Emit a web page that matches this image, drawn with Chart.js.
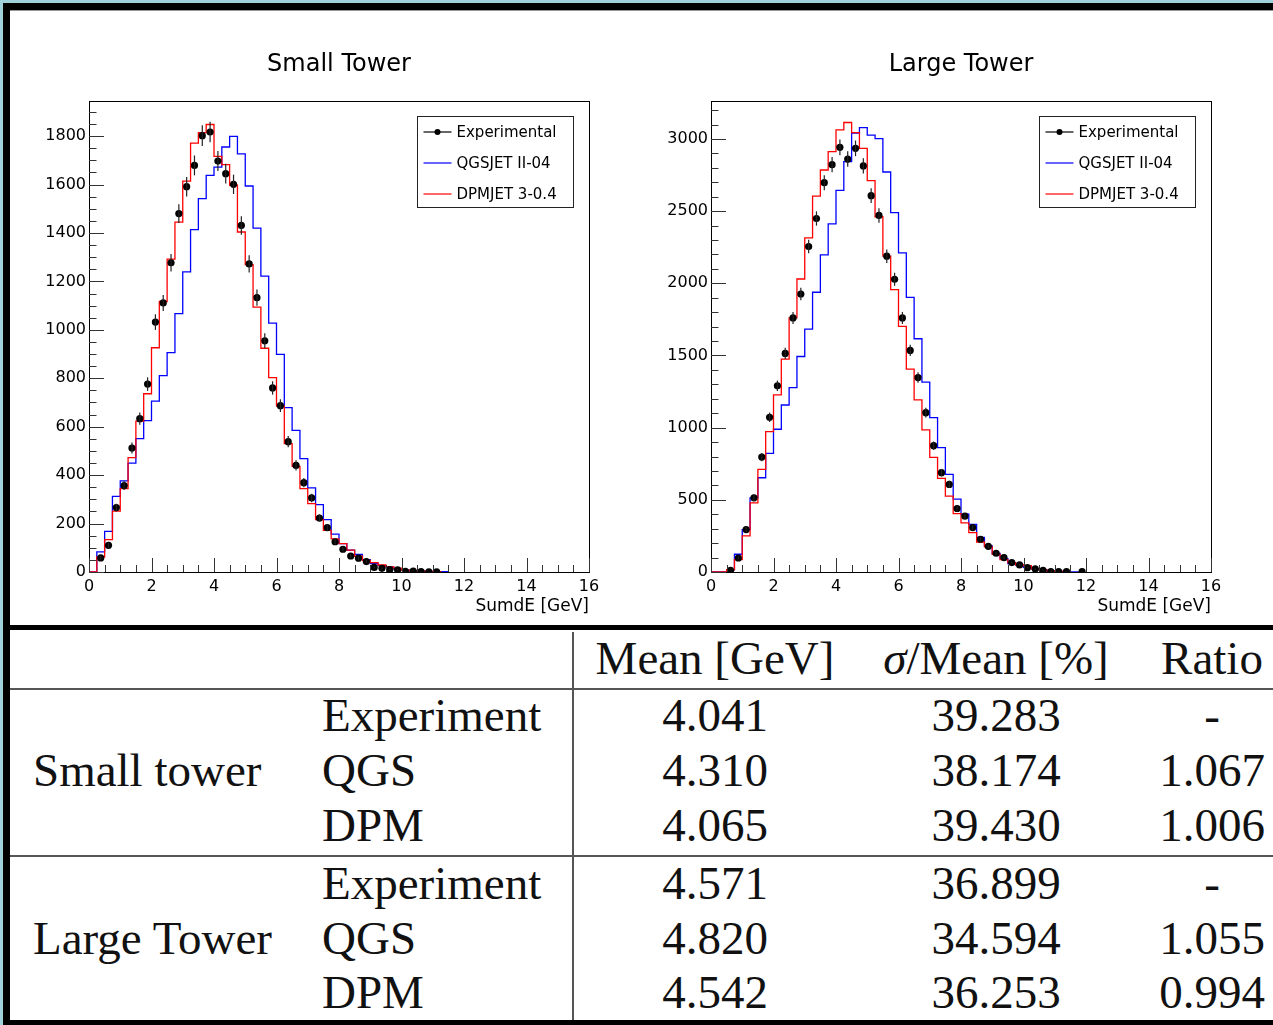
<!DOCTYPE html>
<html>
<head>
<meta charset="utf-8">
<script src="https://cdn.jsdelivr.net/npm/chart.js@4.4.1/dist/chart.umd.min.js"></script>
<style>
  html, body { margin: 0; padding: 0; background: #fff; }
  body { width: 1273px; height: 1025px; position: relative; overflow: hidden; }
  .bar { position: absolute; background: #000; }
  canvas { position: absolute; }
  .t { position: absolute; font-family: 'Liberation Serif', serif; font-size: 47px; line-height: 50px; height: 50px; color: #111; white-space: nowrap; }
  .c { text-align: center; width: 300px; }
  .rule { position: absolute; background: #555; }
</style>
</head>
<body>
<!-- window frame -->
<div style="position:absolute;left:0;top:0;width:1273px;height:3px;background:#9fd3d9"></div>
<div style="position:absolute;left:0;top:0;width:3px;height:1025px;background:#9fd3d9"></div>
<div class="bar" style="left:3px;top:3px;width:1270px;height:7px;border-top-left-radius:4px"></div>
<div style="position:absolute;left:10px;top:10px;width:1263px;height:1px;background:#999"></div>
<div class="bar" style="left:3px;top:3px;width:7px;height:1022px"></div>
<div class="bar" style="left:3px;top:1020px;width:1270px;height:5px"></div>
<div class="bar" style="left:10px;top:625px;width:1263px;height:5px"></div>

<canvas id="chartSmall" width="612" height="615" style="left:10px;top:10px"></canvas>
<canvas id="chartLarge" width="612" height="615" style="left:632px;top:10px"></canvas>

<!-- table -->
<div class="rule" style="left:572px;top:632px;width:2px;height:388px"></div>
<div class="rule" style="left:10px;top:688px;width:1263px;height:2px"></div>
<div class="rule" style="left:10px;top:855px;width:1263px;height:2px"></div>
<div id="table"></div>

<script>
// bins: 0.25 GeV wide, starting at 0
const binWidth = 0.25;

// Small tower
const smallExp = [null, 58, 110, 266, 357, 512, 633, 776, 1032, 1111, 1277, 1480, 1591, 1679, 1802, 1817,
  1697, 1645, 1601, 1431, 1272, 1133, 955, 760, 687, 538, 440, 369, 306, 223, 183, 125,
  94, 66, 57, 43, 19, 15, 10, 9, 3, 4, 2, 1, 1];
const smallQgs = [0, 83, 168, 312, 376, 450, 551, 625, 706, 811, 906, 1067, 1239, 1414, 1542, 1638,
  1672, 1755, 1799, 1727, 1594, 1420, 1222, 1028, 899, 679, 585, 468, 347, 278, 216, 156,
  117, 90, 73, 51, 35, 26, 21, 12, 8, 5, 3, 2, 1, 1];
const smallDpm = [0, 62, 134, 251, 344, 472, 623, 736, 926, 1117, 1292, 1445, 1614, 1771, 1814, 1848,
  1716, 1682, 1597, 1404, 1269, 1094, 924, 803, 685, 530, 436, 344, 282, 216, 172, 137,
  117, 90, 65, 48, 39, 29, 21, 16, 8, 5, 3, 2, 1];

// Large tower
const largeExp = [null, null, 12, 97, 294, 514, 796, 1072, 1290, 1514, 1760, 1926, 2255, 2449, 2697, 2822,
  2942, 2861, 2935, 2813, 2607, 2470, 2188, 2028, 1760, 1535, 1347, 1104, 875, 688, 607, 440,
  387, 308, 227, 178, 130, 100, 65, 49, 30, 21, 12, 3, 3, 3, null, 2];
const largeQgs = [0, 0, 15, 123, 294, 514, 653, 822, 989, 1157, 1278, 1493, 1683, 1938, 2197, 2412,
  2644, 2843, 3040, 3079, 3026, 3003, 2771, 2489, 2211, 1903, 1616, 1315, 1070, 861, 676, 505,
  400, 329, 239, 181, 128, 93, 58, 47, 33, 21, 14, 7, 4, 2, 1];
const largeDpm = [0, 0, 17, 86, 250, 479, 711, 972, 1227, 1475, 1760, 2030, 2315, 2604, 2785, 2912,
  3063, 3114, 3044, 2935, 2711, 2461, 2188, 1956, 1701, 1405, 1192, 984, 794, 648, 526, 405,
  340, 273, 208, 174, 123, 86, 65, 49, 44, 21, 14, 7, 4, 2];

// axis ticks
const xTicks = [0, 2, 4, 6, 8, 10, 12, 14, 16];
const smallYTicks = [0, 200, 400, 600, 800, 1000, 1200, 1400, 1600, 1800];
const largeYTicks = [0, 500, 1000, 1500, 2000, 2500, 3000];

const legendLabels = ['Experimental', 'QGSJET II-04', 'DPMJET 3-0.4'];
const xTitle = 'SumdE [GeV]';

// table
const tableHeader = ['Mean [GeV]', 'σ/Mean [%]', 'Ratio'];
const tableGroups = ['Small tower', 'Large Tower'];
const tableModels = ['Experiment', 'QGS', 'DPM'];
const meanValues = [['4.041', '4.310', '4.065'], ['4.571', '4.820', '4.542']];
const sigmaValues = [['39.283', '38.174', '39.430'], ['36.899', '34.594', '36.253']];
const ratioValues = [['-', '1.067', '1.006'], ['-', '1.055', '0.994']];

const colors = { exp: '#000000', qgs: '#0000ff', dpm: '#ff0000', axis: '#333333' };
const sansFont = "'DejaVu Sans', sans-serif";

// histogram outline from bin contents
function outline(values) {
    const pts = [];
    values.forEach((v, i) => {
        pts.push({ x: i * binWidth, y: v });
        pts.push({ x: (i + 1) * binWidth, y: v });
    });
    pts.push({ x: values.length * binWidth, y: 0 });
    return pts;
}

function points(values) {
    const pts = [];
    values.forEach((v, i) => {
        if (v !== null) pts.push({ x: (i + 0.5) * binWidth, y: v });
    });
    return pts;
}

// ROOT-like frame, inward ticks, error bars and legend box
const rootStyle = {
    id: 'rootStyle',
    afterDatasetsDraw(chart, args, opts) {
        const ctx = chart.ctx;
        const area = chart.chartArea;
        const xs = chart.scales.x, ys = chart.scales.y;
        ctx.save();

        // error bars (sqrt N)
        ctx.strokeStyle = '#222';
        ctx.lineWidth = 1.2;
        chart.data.datasets[0].data.forEach(p => {
            const err = Math.sqrt(p.y);
            const px = xs.getPixelForValue(p.x);
            ctx.beginPath();
            ctx.moveTo(px, ys.getPixelForValue(p.y + err));
            ctx.lineTo(px, ys.getPixelForValue(Math.max(p.y - err, 0)));
            ctx.stroke();
        });

        // frame
        ctx.strokeStyle = '#000';
        ctx.lineWidth = 1;
        ctx.strokeRect(Math.round(area.left) + 0.5, Math.round(area.top) + 0.5,
            Math.round(area.right - area.left), Math.round(area.bottom - area.top));

        // ticks
        ctx.strokeStyle = colors.axis;
        for (let v = 0; v <= 16 + 1e-9; v += 0.5) {
            const px = Math.round(xs.getPixelForValue(v)) + 0.5;
            const len = (Math.abs(v / 2 - Math.round(v / 2)) < 1e-6) ? 14 : 7;
            ctx.beginPath();
            ctx.moveTo(px, area.bottom);
            ctx.lineTo(px, area.bottom - len);
            ctx.stroke();
        }
        for (let v = 0; v <= ys.max; v += opts.yMinor) {
            const py = Math.round(ys.getPixelForValue(v)) + 0.5;
            const len = (v % opts.yMajor === 0) ? 15 : 7.5;
            ctx.beginPath();
            ctx.moveTo(area.left, py);
            ctx.lineTo(area.left + len, py);
            ctx.stroke();
        }

        // legend
        const bw = 156, bh = 91;
        const bx = Math.round(area.right - 16 - bw) + 0.5;
        const by = Math.round(area.top + 15) + 0.5;
        ctx.fillStyle = '#fff';
        ctx.fillRect(bx, by, bw, bh);
        ctx.strokeStyle = '#222';
        ctx.strokeRect(bx, by, bw, bh);
        const rows = [colors.exp, colors.qgs, colors.dpm];
        ctx.font = '15px ' + sansFont;
        ctx.textBaseline = 'middle';
        ctx.textAlign = 'left';
        rows.forEach((c, i) => {
            const ry = Math.round(by + 15 + i * 31);
            ctx.strokeStyle = c;
            ctx.lineWidth = 1.2;
            ctx.beginPath();
            ctx.moveTo(bx + 6, ry);
            ctx.lineTo(bx + 34, ry);
            ctx.stroke();
            if (i === 0) {
                ctx.fillStyle = '#000';
                ctx.beginPath();
                ctx.arc(bx + 20, ry, 3, 0, Math.PI * 2);
                ctx.fill();
            }
            ctx.fillStyle = '#000';
            ctx.fillText(legendLabels[i], bx + 39, ry + 1);
        });
        ctx.restore();
    }
};

function makeChart(id, title, exp, qgs, dpm, yMax, yTicks, yMajor, yMinor) {
    const ctx = document.getElementById(id).getContext('2d');
    return new Chart(ctx, {
        type: 'line',
        data: {
            datasets: [
                {
                    label: legendLabels[0],
                    data: points(exp),
                    showLine: false,
                    pointRadius: 3.6,
                    pointBackgroundColor: colors.exp,
                    pointBorderWidth: 0
                },
                {
                    label: legendLabels[2],
                    data: outline(dpm),
                    borderColor: colors.dpm,
                    borderWidth: 1.3,
                    pointRadius: 0,
                    tension: 0
                },
                {
                    label: legendLabels[1],
                    data: outline(qgs),
                    borderColor: colors.qgs,
                    borderWidth: 1.3,
                    pointRadius: 0,
                    tension: 0
                }
            ]
        },
        options: {
            responsive: false,
            animation: false,
            devicePixelRatio: 1,
            layout: { padding: { left: 0, right: 33, top: 0, bottom: 0 } },
            plugins: {
                legend: { display: false },
                tooltip: { enabled: false },
                title: {
                    display: true,
                    text: title,
                    fullSize: false,
                    color: '#000',
                    font: { family: sansFont, size: 24, weight: 'normal' },
                    padding: { top: 40.6, bottom: 21.6 }
                },
                rootStyle: { yMajor: yMajor, yMinor: yMinor }
            },
            scales: {
                x: {
                    type: 'linear',
                    min: 0,
                    max: 16,
                    grid: { display: false, drawTicks: false },
                    border: { display: false },
                    afterBuildTicks: s => { s.ticks = xTicks.map(v => ({ value: v })); },
                    ticks: { color: '#000', padding: 5, maxRotation: 0, autoSkip: false,
                        callback: v => String(v),
                        font: { family: sansFont, size: 16 } },
                    title: {
                        display: true, text: xTitle, align: 'end', color: '#000',
                        font: { family: sansFont, size: 17 }, padding: { top: 0, bottom: 8 }
                    },
                    afterFit: s => { s.height = 53; }
                },
                y: {
                    min: 0,
                    max: yMax,
                    grid: { display: false, drawTicks: false },
                    border: { display: false },
                    afterBuildTicks: s => { s.ticks = yTicks.map(v => ({ value: v })); },
                    ticks: { color: '#000', padding: 3, autoSkip: false,
                        callback: v => String(v),
                        font: { family: sansFont, size: 16 } },
                    afterFit: s => { s.width = 79; }
                }
            }
        },
        plugins: [rootStyle]
    });
}

makeChart('chartSmall', 'Small Tower', smallExp, smallQgs, smallDpm, 1945, smallYTicks, 200, 50);
makeChart('chartLarge', 'Large Tower', largeExp, largeQgs, largeDpm, 3263, largeYTicks, 500, 100);

// table text
const table = document.getElementById('table');
function cell(text, left, centerY, centered) {
    const d = document.createElement('div');
    d.className = centered ? 't c' : 't';
    d.style.left = (centered ? left - 150 : left) + 'px';
    d.style.top = (centerY - 25) + 'px';
    d.innerHTML = text;
    table.appendChild(d);
}
const colX = [715, 996, 1212];
cell(tableHeader[0], colX[0], 658, true);
cell('<i>σ</i>/Mean [%]', colX[1], 658, true);
cell(tableHeader[2], colX[2], 658, true);
const rowY = [[715, 770, 825], [883, 938, 992]];
tableGroups.forEach((g, gi) => {
    cell(g, 33, rowY[gi][1], false);
    tableModels.forEach((m, mi) => {
        const y = rowY[gi][mi];
        cell(m, 322, y, false);
        cell(meanValues[gi][mi], colX[0], y, true);
        cell(sigmaValues[gi][mi], colX[1], y, true);
        cell(ratioValues[gi][mi], colX[2], y, true);
    });
});
</script>
</body>
</html>
